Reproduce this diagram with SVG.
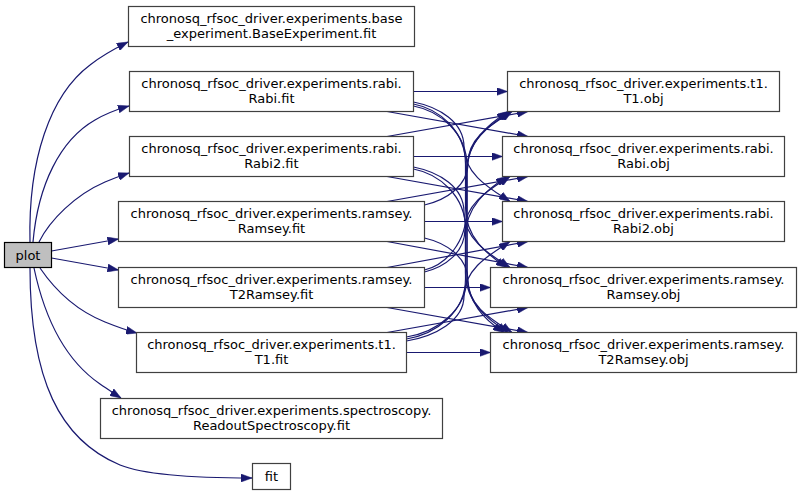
<svg xmlns="http://www.w3.org/2000/svg" width="801" height="495" viewBox="0 0 801 495">
<defs>
<marker id="ah" viewBox="0 0 11 8" markerUnits="userSpaceOnUse" markerWidth="11" markerHeight="8" refX="11" refY="4" orient="auto">
<path d="M0,0 L11,4 L0,8 Z" fill="#191970" stroke="#191970" stroke-width="0.5"/>
</marker>
</defs>
<style>
.n rect{fill:#ffffff;stroke:#404040;stroke-width:1.2}
.n text{font-family:"DejaVu Sans","Liberation Sans",sans-serif;font-size:13px;fill:#000000;text-anchor:middle}
#edges path{fill:none;stroke:#191970;stroke-width:1.2;marker-end:url(#ah)}
</style>
<rect x="0" y="0" width="801" height="495" fill="#ffffff"/>
<g id="edges">
<path d="M30,242 C28,160 50,95 90,65 C100,57 110,51 128,42"/>
<path d="M33,242 C38,185 60,140 95,120 C105,114 115,110 129,106"/>
<path d="M39,242 C50,220 75,195 105,182 C112,179 120,176 129,173"/>
<path d="M51.5,251 L118.5,239"/>
<path d="M51.5,258 L118.5,270"/>
<path d="M40,268 C55,290 75,310 105,322 C115,326 125,330 137,333"/>
<path d="M34,268 C45,320 65,360 100,384 C106,388 113,393 121,398"/>
<path d="M30,268 C30,380 60,440 120,465 C145,475 190,478 252,478"/>
<path d="M413.5,91.5 L507.5,91.5"/>
<path d="M413.5,156.5 L502.5,156.5"/>
<path d="M424.5,221.5 L502.5,221.5"/>
<path d="M424.5,287.5 L490.5,287.5"/>
<path d="M406.5,352.5 L490.5,352.5"/>
<path d="M387,111.5 L528,136.5"/>
<path d="M387,136.5 L528,111.5"/>
<path d="M387,176.5 L528,201.5"/>
<path d="M387,201.5 L528,176.5"/>
<path d="M387,241.5 L528,267.5"/>
<path d="M387,267.5 L528,241.5"/>
<path d="M387,307.5 L528,332.5"/>
<path d="M387,332.5 L528,307.5"/>
<path d="M413.5,102 C439,107 464,122 464,147 C464,174 490,188.5 510,201.5"/>
<path d="M413.5,104 C439.5,109 465.5,131 465.5,164 L465.5,207.5 C465.5,237.5 487,254.5 507,267.5"/>
<path d="M413.5,106 C440,111 467,133 467,166 L467,272.5 C467,302.5 484,319.5 504,332.5"/>
<path d="M413.5,167 C439,172 464,187 464,212 C464,239.5 490,254.5 510,267.5"/>
<path d="M413.5,169 C439.5,174 465.5,196 465.5,229 L465.5,272.5 C465.5,302.5 488,319.5 508,332.5"/>
<path d="M424.5,238 C446,243 468,257 468,280.5 C468,306.5 492,319.5 512,332.5"/>
<path d="M424.5,205 C446,200 468,186 468,163 C468,137 492,124.5 512,111.5"/>
<path d="M424.5,270 C445.5,265 466.5,243 466.5,210 L466.5,171.5 C466.5,141.5 490,124.5 510,111.5"/>
<path d="M424.5,272 C445,267 465,252.5 465,229 C465,202.75 490,189.5 510,176.5"/>
<path d="M406.5,337 C437,332 467,310 467,277 L467,171.5 C467,141.5 488,124.5 508,111.5"/>
<path d="M406.5,339 C436,334 465.5,312 465.5,279 L465.5,236.5 C465.5,206.5 487,189.5 507,176.5"/>
<path d="M406.5,341 C435,336 464,320.75 464,296 C464,268.75 490,254.5 510,241.5"/>
</g>
<g id="plot" class="n"><rect x="4.5" y="242.5" width="47" height="25" style="fill:#bfbfbf;stroke:#000000"/><text x="28" y="259.5">plot</text></g>
<g id="base_fit" class="n"><rect x="128.5" y="6.5" width="286" height="40"/><text x="271.5" y="23">chronosq_rfsoc_driver.experiments.base</text><text x="271.5" y="38">_experiment.BaseExperiment.fit</text></g>
<g id="rabi_fit" class="n"><rect x="129.5" y="71.5" width="284" height="40"/><text x="271.5" y="88">chronosq_rfsoc_driver.experiments.rabi.</text><text x="271.5" y="103">Rabi.fit</text></g>
<g id="rabi2_fit" class="n"><rect x="129.5" y="136.5" width="284" height="40"/><text x="271.5" y="153">chronosq_rfsoc_driver.experiments.rabi.</text><text x="271.5" y="168">Rabi2.fit</text></g>
<g id="ramsey_fit" class="n"><rect x="118.5" y="201.5" width="306" height="40"/><text x="271.5" y="218">chronosq_rfsoc_driver.experiments.ramsey.</text><text x="271.5" y="233">Ramsey.fit</text></g>
<g id="t2ramsey_fit" class="n"><rect x="118.5" y="267.5" width="306" height="40"/><text x="271.5" y="284">chronosq_rfsoc_driver.experiments.ramsey.</text><text x="271.5" y="299">T2Ramsey.fit</text></g>
<g id="t1_fit" class="n"><rect x="136.5" y="332.5" width="270" height="40"/><text x="271.5" y="349">chronosq_rfsoc_driver.experiments.t1.</text><text x="271.5" y="364">T1.fit</text></g>
<g id="readout_fit" class="n"><rect x="100.5" y="398.5" width="342" height="40"/><text x="271.5" y="415">chronosq_rfsoc_driver.experiments.spectroscopy.</text><text x="271.5" y="430">ReadoutSpectroscopy.fit</text></g>
<g id="fit" class="n"><rect x="252.5" y="463.5" width="38" height="26"/><text x="271.5" y="480.5">fit</text></g>
<g id="t1_obj" class="n"><rect x="507.5" y="71.5" width="272" height="40"/><text x="643.5" y="88">chronosq_rfsoc_driver.experiments.t1.</text><text x="643.5" y="103">T1.obj</text></g>
<g id="rabi_obj" class="n"><rect x="502.5" y="136.5" width="282" height="40"/><text x="643.5" y="153">chronosq_rfsoc_driver.experiments.rabi.</text><text x="643.5" y="168">Rabi.obj</text></g>
<g id="rabi2_obj" class="n"><rect x="502.5" y="201.5" width="282" height="40"/><text x="643.5" y="218">chronosq_rfsoc_driver.experiments.rabi.</text><text x="643.5" y="233">Rabi2.obj</text></g>
<g id="ramsey_obj" class="n"><rect x="490.5" y="267.5" width="306" height="40"/><text x="643.5" y="284">chronosq_rfsoc_driver.experiments.ramsey.</text><text x="643.5" y="299">Ramsey.obj</text></g>
<g id="t2ramsey_obj" class="n"><rect x="490.5" y="332.5" width="306" height="40"/><text x="643.5" y="349">chronosq_rfsoc_driver.experiments.ramsey.</text><text x="643.5" y="364">T2Ramsey.obj</text></g>
</svg>
